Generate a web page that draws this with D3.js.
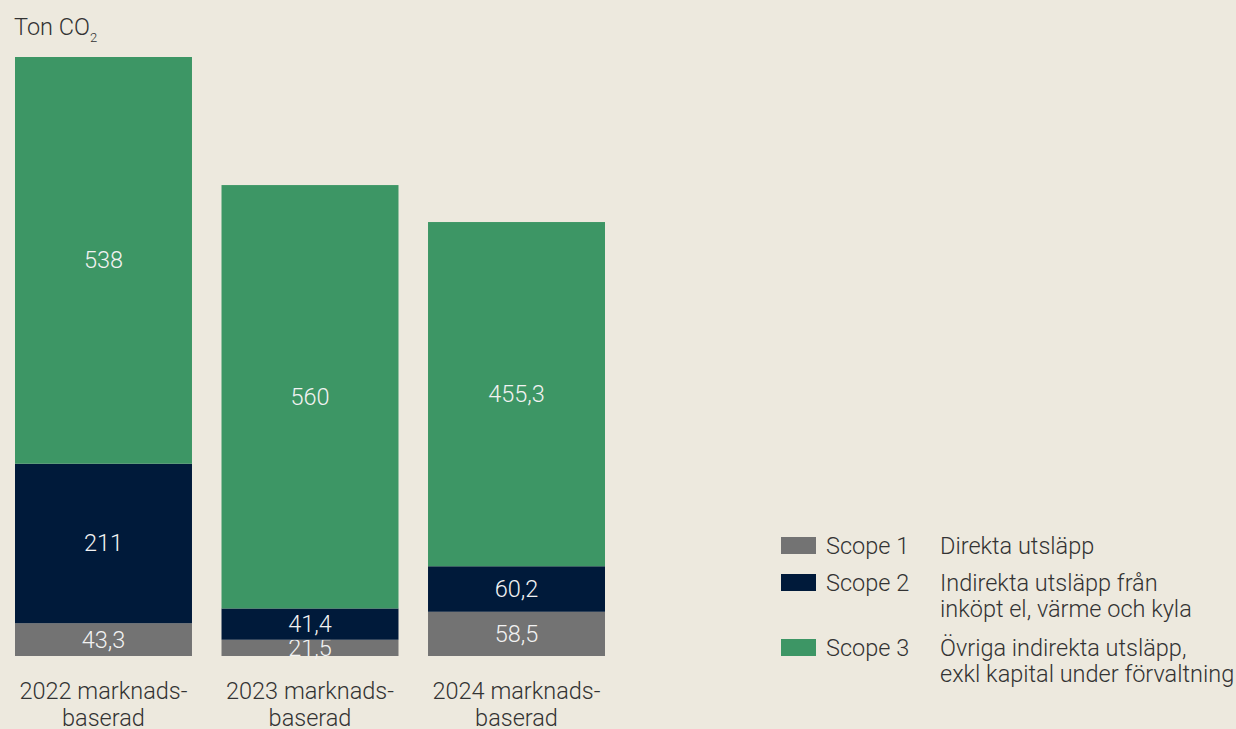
<!DOCTYPE html>
<html>
<head>
<meta charset="utf-8">
<script src="https://cdn.jsdelivr.net/npm/d3@7"></script>
<style>
  html, body { margin: 0; padding: 0; background: #EDE9DE; }
  svg { display: block; }
  text { font-family: Roboto, "Liberation Sans", sans-serif; font-weight: 300; }
</style>
</head>
<body>
<svg class="chart"></svg>
<script>
const categories = ["2022", "2023", "2024"];
const categoryLines = [["2022 marknads-", "baserad"], ["2023 marknads-", "baserad"], ["2024 marknads-", "baserad"]];
const scopes = ["Scope 1", "Scope 2", "Scope 3"];
const scope1 = [43.3, 21.5, 58.5];
const scope2 = [211, 41.4, 60.2];
const scope3 = [538, 560, 455.3];
const scopeDescriptions = [
  ["Direkta utsläpp"],
  ["Indirekta utsläpp från", "inköpt el, värme och kyla"],
  ["Övriga indirekta utsläpp,", "exkl kapital under förvaltning"]
];
const colors = ["#737373", "#001A3A", "#3D9665"];

const width = 1236, height = 729;
const fontSize = 23.5;
const svg = d3.select(".chart").attr("width", width).attr("height", height);

const rows = categories.map((c, i) => ({ cat: c, s0: scope1[i], s1: scope2[i], s2: scope3[i] }));
const stack = d3.stack().keys(["s0", "s1", "s2"])(rows);

const x = d3.scaleBand()
  .domain(categories)
  .range([15, 605])
  .paddingInner(0.143);
const maxTotal = d3.max(rows, d => d.s0 + d.s1 + d.s2);
const y = d3.scaleLinear()
  .domain([0, maxTotal])
  .range([656, 57]);

const fmt = v => String(+v.toFixed(1)).replace(".", ",");

// bars
const layer = svg.selectAll(".layer")
  .data(stack)
  .enter().append("g")
  .attr("class", "layer")
  .attr("fill", (d, i) => colors[i]);

layer.selectAll("rect")
  .data(d => d)
  .enter().append("rect")
  .attr("x", d => x(d.data.cat))
  .attr("y", d => y(d[1]))
  .attr("width", x.bandwidth())
  .attr("height", d => y(d[0]) - y(d[1]));

// value labels
layer.selectAll("text")
  .data(d => d)
  .enter().append("text")
  .attr("x", d => x(d.data.cat) + x.bandwidth() / 2)
  .attr("y", d => (y(d[0]) + y(d[1])) / 2)
  .attr("dy", "0.34em")
  .attr("text-anchor", "middle")
  .attr("fill", "#F2F2F2")
  .style("font-size", fontSize + "px")
  .text(d => fmt(d[1] - d[0]));

// category labels
const catText = svg.selectAll(".cat")
  .data(categories)
  .enter().append("text")
  .attr("class", "cat")
  .attr("text-anchor", "middle")
  .attr("fill", "#333")
  .style("font-size", fontSize + "px");
catText.selectAll("tspan")
  .data((d, i) => categoryLines[i])
  .enter().append("tspan")
  .attr("x", function () { return x(d3.select(this.parentNode).datum()) + x.bandwidth() / 2; })
  .attr("y", (d, i) => 699 + i * 27)
  .text(d => d);

// unit title
const title = svg.append("text")
  .attr("x", 14)
  .attr("y", 35)
  .attr("fill", "#333")
  .style("font-size", fontSize + "px");
title.append("tspan").text("Ton CO");
title.append("tspan").attr("dy", 7).style("font-size", "13px").text("2");

// legend
const legendY = [554, 591, 656];
const legend = svg.selectAll(".legend")
  .data(scopes)
  .enter().append("g")
  .attr("class", "legend")
  .attr("transform", (d, i) => `translate(781, ${legendY[i]})`);
legend.append("rect")
  .attr("x", 0)
  .attr("y", -17)
  .attr("width", 35)
  .attr("height", 17)
  .attr("fill", (d, i) => colors[i]);
legend.append("text")
  .attr("x", 45)
  .attr("y", 0)
  .attr("fill", "#333")
  .style("font-size", fontSize + "px")
  .text(d => d);
const desc = legend.append("text")
  .attr("fill", "#333")
  .style("font-size", fontSize + "px");
desc.selectAll("tspan")
  .data((d, i) => scopeDescriptions[i])
  .enter().append("tspan")
  .attr("x", 159)
  .attr("y", (d, i) => i * 26)
  .text(d => d);
</script>
</body>
</html>
